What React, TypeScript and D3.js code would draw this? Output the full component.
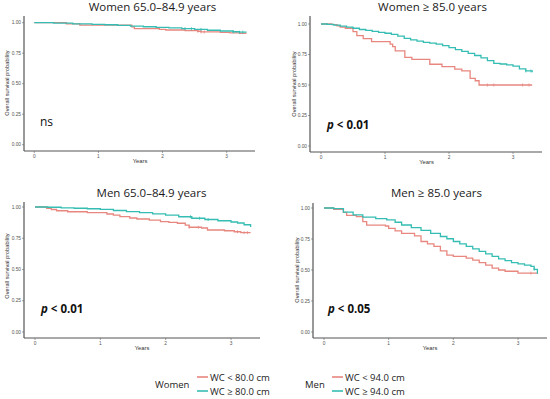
import React from "react";
import * as d3 from "d3";

// ---- data (time in years, survival probability) ----
const w65Low: [number, number][] = [[0,1],[0.5,0.99],[0.71,0.98],[1.52,0.965],[1.56,0.952],[1.95,0.946],[2.05,0.94],[2.35,0.935],[2.55,0.93],[2.6,0.924],[2.9,0.92],[3.05,0.916],[3.2,0.913],[3.3,0.91]];
const w65High: [number, number][] = [[0,1],[0.3,0.996],[0.6,0.991],[0.9,0.987],[1.1,0.983],[1.3,0.978],[1.5,0.972],[1.7,0.967],[1.9,0.962],[2.1,0.957],[2.3,0.951],[2.5,0.945],[2.7,0.938],[2.9,0.932],[3.1,0.926],[3.2,0.922],[3.3,0.918]];
const w85Low: [number, number][] = [[0,1],[0.17,0.995],[0.25,0.985],[0.3,0.975],[0.38,0.965],[0.5,0.937],[0.56,0.905],[0.66,0.88],[0.79,0.855],[1.08,0.835],[1.12,0.814],[1.16,0.78],[1.31,0.727],[1.42,0.71],[1.7,0.67],[1.89,0.65],[2.09,0.63],[2.2,0.615],[2.33,0.555],[2.41,0.535],[2.47,0.5],[3.3,0.5]];
const w85High: [number, number][] = [[0,1],[0.1,0.997],[0.2,0.99],[0.3,0.982],[0.4,0.975],[0.5,0.965],[0.6,0.955],[0.7,0.948],[0.8,0.94],[0.9,0.932],[1.0,0.924],[1.1,0.915],[1.2,0.9],[1.3,0.882],[1.4,0.87],[1.5,0.86],[1.6,0.85],[1.7,0.843],[1.8,0.835],[1.9,0.822],[2.0,0.806],[2.1,0.79],[2.2,0.775],[2.3,0.76],[2.4,0.742],[2.5,0.722],[2.6,0.7],[2.7,0.678],[2.8,0.672],[2.9,0.665],[3.0,0.655],[3.1,0.632],[3.2,0.615],[3.3,0.605]];
const m65Low: [number, number][] = [[0,1],[0.18,0.99],[0.25,0.98],[0.33,0.97],[0.5,0.962],[0.8,0.955],[1.1,0.944],[1.2,0.935],[1.3,0.923],[1.45,0.912],[1.56,0.904],[1.75,0.895],[1.92,0.883],[2.05,0.877],[2.18,0.87],[2.3,0.855],[2.36,0.838],[2.55,0.832],[2.64,0.816],[2.9,0.81],[3.05,0.802],[3.15,0.795],[3.3,0.795]];
const m65High: [number, number][] = [[0,1],[0.2,0.998],[0.4,0.993],[0.6,0.99],[0.8,0.986],[1.0,0.981],[1.2,0.972],[1.4,0.963],[1.6,0.955],[1.8,0.945],[2.0,0.935],[2.2,0.922],[2.4,0.91],[2.6,0.9],[2.8,0.89],[3.0,0.88],[3.1,0.872],[3.2,0.858],[3.3,0.84]];
const m85Low: [number, number][] = [[0,1],[0.15,0.99],[0.3,0.965],[0.35,0.94],[0.5,0.93],[0.6,0.89],[0.66,0.862],[0.95,0.855],[1.0,0.835],[1.1,0.815],[1.2,0.795],[1.4,0.775],[1.5,0.73],[1.6,0.71],[1.7,0.69],[1.8,0.655],[1.9,0.62],[2.0,0.61],[2.2,0.595],[2.3,0.58],[2.4,0.56],[2.5,0.54],[2.6,0.515],[2.7,0.5],[2.8,0.49],[3.0,0.475],[3.3,0.47]];
const m85High: [number, number][] = [[0,1],[0.15,0.995],[0.3,0.966],[0.45,0.945],[0.6,0.926],[0.8,0.915],[0.97,0.905],[1.1,0.885],[1.2,0.863],[1.35,0.842],[1.5,0.82],[1.65,0.795],[1.8,0.77],[1.9,0.752],[2.0,0.73],[2.1,0.71],[2.2,0.69],[2.3,0.67],[2.4,0.65],[2.5,0.63],[2.6,0.61],[2.7,0.59],[2.8,0.575],[2.9,0.56],[3.0,0.55],[3.1,0.54],[3.2,0.53],[3.25,0.505],[3.3,0.47]];

const censorW65Low = [2.55, 2.6, 2.65];
const censorW65High = [2.35, 2.45, 2.6, 3.1, 3.2, 3.25];
const censorW85Low = [2.6, 2.7, 3.15, 3.25];
const censorW85High = [3.2, 3.28];
const censorM65Low = [2.36, 2.5, 3.1, 3.2, 3.25];
const censorM65High = [2.38, 2.52, 2.65];
const censorM85Low = [3.2];
const censorM85High = [3.25];

const titles = ["Women 65.0\u201384.9 years", "Women \u2265 85.0 years", "Men 65.0\u201384.9 years", "Men \u2265 85.0 years"];
const pLabels = ["ns", "p < 0.01", "p < 0.01", "p < 0.05"];
const xTicks = [0, 1, 2, 3];
const yTicks = [0, 0.25, 0.5, 0.75, 1];
const legendGroups = ["Women", "Men"];
const legendLabels = [["WC < 80.0 cm", "WC \u2265 80.0 cm"], ["WC < 94.0 cm", "WC \u2265 94.0 cm"]];

const RED = "#E8877F";
const TEAL = "#35BDB3";
const FONT = "'Open Sans', 'Noto Sans', sans-serif";
const AXFONT = "'Liberation Sans', Arial, sans-serif";

const panels = [
  { low: w65Low, high: w65High, cLow: censorW65Low, cHigh: censorW65High, ax: 24, top: 16, bot: 151, right: 255, x0: 34.3, x3: 226.7, y1: 22.7, y0: 144.7, tx: 152.5, ty: 10.5, ytx: 7, yty: 83, yearsX: 140, yearsY: 163, pX: 40, pY: 126 },
  { low: w85Low, high: w85High, cLow: censorW85Low, cHigh: censorW85High, ax: 310, top: 16, bot: 152, right: 542, x0: 321, x3: 513, y1: 24, y0: 146, tx: 432.5, ty: 10.5, ytx: 294, yty: 84, yearsX: 426.5, yearsY: 164, pX: 327, pY: 129 },
  { low: m65Low, high: m65High, cLow: censorM65Low, cHigh: censorM65High, ax: 24, top: 202, bot: 338, right: 260, x0: 35, x3: 231, y1: 207, y0: 332, tx: 151.5, ty: 196.5, ytx: 7, yty: 266, yearsX: 142, yearsY: 350, pX: 41, pY: 313 },
  { low: m85Low, high: m85High, cLow: censorM85Low, cHigh: censorM85High, ax: 313, top: 203, bot: 338, right: 547, x0: 324, x3: 518, y1: 208, y0: 332, tx: 436.5, ty: 196.5, ytx: 297, yty: 270, yearsX: 430, yearsY: 350, pX: 328, pY: 313 },
];

function stepAt(data: [number, number][], t: number) {
  let v = data[0][1];
  for (const d of data) if (d[0] <= t) v = d[1];
  return v;
}

function Panel({ p, i }: { p: typeof panels[number]; i: number }) {
  const x = d3.scaleLinear().domain([0, 3]).range([p.x0, p.x3]);
  const y = d3.scaleLinear().domain([0, 1]).range([p.y0, p.y1]);
  const line = d3.line<[number, number]>().x(d => x(d[0])).y(d => y(d[1])).curve(d3.curveStepAfter);
  const series = [
    { data: p.low, c: p.cLow, color: RED },
    { data: p.high, c: p.cHigh, color: TEAL },
  ];
  const label = pLabels[i];
  return (
    <g>
      <text x={p.tx} y={p.ty} textAnchor="middle" fontFamily={FONT} fontSize={11.5} fill="#1a1a1a">{titles[i]}</text>
      {/* axes */}
      <line x1={p.ax} x2={p.ax} y1={p.top} y2={p.bot} stroke="#555" strokeWidth={1.2} />
      <line x1={p.ax} x2={p.right} y1={p.bot} y2={p.bot} stroke="#555" strokeWidth={1.2} />
      {yTicks.map(t => (
        <g key={"y" + t}>
          <line x1={p.ax - 2} x2={p.ax} y1={y(t)} y2={y(t)} stroke="#666" strokeWidth={0.6} />
          <text x={p.ax - 3} y={y(t) + 1.7} textAnchor="end" fontFamily={AXFONT} fontSize={4.8} fill="#555">{t.toFixed(2)}</text>
        </g>
      ))}
      {xTicks.map(t => (
        <g key={"x" + t}>
          <line x1={x(t)} x2={x(t)} y1={p.bot} y2={p.bot + 2} stroke="#666" strokeWidth={0.6} />
          <text x={x(t)} y={p.bot + 6.5} textAnchor="middle" fontFamily={AXFONT} fontSize={4.8} fill="#555">{t}</text>
        </g>
      ))}
      <text x={p.yearsX} y={p.yearsY} textAnchor="middle" fontFamily={AXFONT} fontSize={5.8} fill="#333">Years</text>
      <text transform={`translate(${p.ytx},${p.yty}) rotate(-90)`} textAnchor="middle" dy={2} fontFamily={AXFONT} fontSize={5.6} fill="#333">Overall survival probability</text>
      {series.map((s, k) => (
        <g key={k}>
          <path d={line(s.data) || ""} fill="none" stroke={s.color} strokeWidth={1.3} />
          {s.c.map((t, j) => (
            <g key={j}>
              <line x1={x(t)} x2={x(t)} y1={y(stepAt(s.data, t)) - 1.5} y2={y(stepAt(s.data, t)) + 1.5} stroke={s.color} strokeWidth={0.8} />
            </g>
          ))}
        </g>
      ))}
      {label === "ns" ? (
        <text x={p.pX} y={p.pY} fontFamily={FONT} fontSize={12} fill="#111">ns</text>
      ) : (
        <text x={p.pX} y={p.pY} fontFamily={FONT} fontSize={11.5} fontWeight="bold" fill="#111">
          <tspan fontStyle="italic">p</tspan>
          <tspan>{label.slice(1)}</tspan>
        </text>
      )}
    </g>
  );
}

export default function App() {
  const legendPos = [
    { gx: 155, lx0: 197, lx1: 208, tx: 210 },
    { gx: 305, lx0: 332, lx1: 343, tx: 345 },
  ];
  return (
    <svg width={550} height={399} style={{ position: "absolute", left: 0, top: 0, background: "#fff" }}>
      <rect width={550} height={399} fill="#fff" />
      {panels.map((p, i) => <Panel key={i} p={p} i={i} />)}
      {legendGroups.map((g, k) => {
        const L = legendPos[k];
        return (
          <g key={g}>
            <text x={L.gx} y={387.5} fontFamily={FONT} fontSize={9.5} fill="#222">{g}</text>
            {[RED, TEAL].map((c, j) => (
              <g key={j}>
                <line x1={L.lx0} x2={L.lx1} y1={377 + j * 14} y2={377 + j * 14} stroke={c} strokeWidth={1.6} />
                <text x={L.tx} y={380.5 + j * 14} fontFamily={FONT} fontSize={9.5} fill="#222">{legendLabels[k][j]}</text>
              </g>
            ))}
          </g>
        );
      })}
    </svg>
  );
}
